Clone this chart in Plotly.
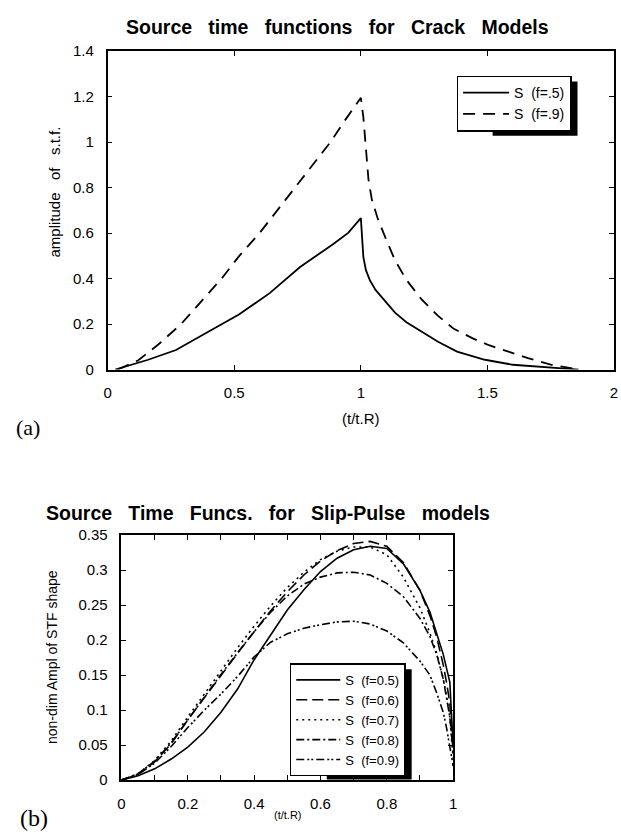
import plotly.graph_objects as go

W, H = 621, 839

# ---------------- data: (a) crack models ----------------
crack_x_f05 = [0.03, 0.16, 0.27, 0.41, 0.52, 0.64, 0.76, 0.89, 0.95, 1.0,
               1.01, 1.02, 1.035, 1.058, 1.09, 1.135, 1.18, 1.24, 1.305, 1.38,
               1.49, 1.6, 1.75, 1.86]
crack_y_f05 = [0.0, 0.043, 0.086, 0.172, 0.243, 0.336, 0.451, 0.551, 0.601, 0.666,
               0.494, 0.437, 0.394, 0.35, 0.308, 0.25, 0.208, 0.165, 0.122, 0.079,
               0.043, 0.021, 0.007, 0.0]
crack_x_f09 = [0.04, 0.12, 0.2, 0.29, 0.37, 0.45, 0.52, 0.6, 0.67, 0.74, 0.81, 0.88, 0.94, 1.0,
               1.01, 1.02, 1.03, 1.043, 1.066, 1.097, 1.135, 1.18, 1.24, 1.305, 1.367,
               1.444, 1.506, 1.583, 1.66, 1.753, 1.86]
crack_y_f09 = [0.0, 0.04, 0.11, 0.2, 0.3, 0.4, 0.5, 0.6, 0.7, 0.8, 0.9, 1.0, 1.1, 1.195,
               1.109, 0.98, 0.837, 0.75, 0.666, 0.58, 0.48, 0.394, 0.308, 0.236, 0.179,
               0.136, 0.107, 0.079, 0.05, 0.021, 0.0]

# ---------------- data: (b) slip-pulse models ----------------
pulse_x = [0, 0.05, 0.1, 0.15, 0.2, 0.25, 0.3, 0.35, 0.4, 0.45, 0.5, 0.55, 0.6,
           0.65, 0.7, 0.75, 0.8, 0.85, 0.9, 0.93, 0.95, 0.97, 0.98, 0.99, 1.0]
pulse_f05 = [0, .006, .016, .03, .047, .069, .097, .13, .172, .208, .243, .272, .298,
             .317, .329, .334, .331, .309, .271, .24, .21, .18, .16, .14, .05]
pulse_f06 = [0, .008, .026, .052, .086, .118, .15, .181, .212, .242, .269, .293, .313,
             .328, .338, .341, .334, .311, .271, .235, .205, .165, .14, .11, .04]
pulse_f07 = [0, .009, .028, .056, .09, .123, .156, .189, .22, .249, .275, .297, .315,
             .327, .333, .333, .322, .29, .246, .21, .182, .145, .12, .09, .03]
pulse_f08 = [0, .009, .027, .053, .086, .119, .151, .182, .212, .24, .263, .28, .29,
             .296, .297, .293, .281, .262, .231, .205, .18, .145, .12, .09, .04]
pulse_f09 = [0, .008, .024, .048, .075, .1, .123, .148, .176, .197, .209, .217, .222,
             .226, .227, .223, .213, .196, .17, .15, .125, .097, .075, .05, .02]

SP = "\u00a0\u00a0"
crack_names = ["S" + SP + "(f=.5)", "S" + SP + "(f=.9)"]
pulse_names = ["S" + SP + "(f=0.5)", "S" + SP + "(f=0.6)", "S" + SP + "(f=0.7)",
               "S" + SP + "(f=0.8)", "S" + SP + "(f=0.9)"]

a_xticks = [0, 0.5, 1, 1.5, 2]
a_xtext = ["0", "0.5", "1", "1.5", "2"]
a_yticks = [0, 0.2, 0.4, 0.6, 0.8, 1.0, 1.2, 1.4]
a_ytext = ["0", "0.2", "0.4", "0.6", "0.8", "1", "1.2", "1.4"]
b_xticks = [0, 0.1, 0.2, 0.3, 0.4, 0.5, 0.6, 0.7, 0.8, 0.9, 1.0]
b_xtext = ["0", "", "0.2", "", "0.4", "", "0.6", "", "0.8", "", "1"]
b_yticks = [0, 0.05, 0.1, 0.15, 0.2, 0.25, 0.3, 0.35]
b_ytext = ["0", "0.05", "0.1", "0.15", "0.2", "0.25", "0.3", "0.35"]

SANS = "Liberation Sans, Arial, Helvetica, sans-serif"
SERIF = "Liberation Serif, Times New Roman, serif"


def px_x(p):
    return p / W


def px_y(p):
    return 1 - p / H


fig = go.Figure()

# (a)
fig.add_trace(go.Scatter(x=crack_x_f05, y=crack_y_f05, mode="lines", name=crack_names[0],
                         line=dict(color="black", width=1.8), xaxis="x", yaxis="y", legend="legend"))
fig.add_trace(go.Scatter(x=crack_x_f09, y=crack_y_f09, mode="lines", name=crack_names[1],
                         line=dict(color="black", width=1.8, dash="12px,8px"), xaxis="x", yaxis="y",
                         legend="legend"))

# (b)
styles = ["solid", "11px,5px", "2px,4px", "8px,3px,2px,3px", "8px,3px,2px,2px,2px,3px"]
for name, ys, dsh in zip(pulse_names, [pulse_f05, pulse_f06, pulse_f07, pulse_f08, pulse_f09], styles):
    fig.add_trace(go.Scatter(x=pulse_x, y=ys, mode="lines", name=name,
                             line=dict(color="black", width=1.6, dash=dsh),
                             xaxis="x2", yaxis="y2", legend="legend2"))

axis_common = dict(showline=True, linecolor="black", linewidth=1.5, mirror="ticks",
                   ticks="inside", ticklen=5, tickwidth=1, tickcolor="black",
                   showgrid=False, zeroline=False, ticklabelstandoff=9,
                   tickfont=dict(family=SANS, size=15, color="black"))

# legend geometry (top-right corners, px) and shadow offset
LA_RIGHT, LA_TOP = 575, 68
LB_RIGHT, LB_TOP = 407, 668
SHADOW = 6
LA_FS, LB_FS = 14, 13
LA_H = 2 * (1.3 * LA_FS + 3) + 13
LB_H = 5 * (1.3 * LB_FS + 3) + 13

fig.update_layout(
    width=W, height=H,
    margin=dict(l=0, r=0, t=0, b=0),
    paper_bgcolor="white", plot_bgcolor="white",
    font=dict(family=SANS, color="black"),
    xaxis=dict(domain=[px_x(105), px_x(618)], range=[0, 2], tickvals=a_xticks,
               ticktext=a_xtext, anchor="y", **axis_common),
    yaxis=dict(domain=[px_y(368), px_y(43)], range=[0, 1.4], tickvals=a_yticks,
               ticktext=a_ytext, anchor="x", **axis_common),
    xaxis2=dict(domain=[px_x(119), px_x(455)], range=[0, 1], tickvals=b_xticks,
                ticktext=b_xtext, anchor="y2", **axis_common),
    yaxis2=dict(domain=[px_y(787), px_y(537)], range=[0, 0.35], tickvals=b_yticks,
                ticktext=b_ytext, anchor="x2", **axis_common),
    legend=dict(x=px_x(LA_RIGHT), y=px_y(LA_TOP), xanchor="right", yanchor="top",
                bgcolor="white", bordercolor="black", borderwidth=1.5,
                font=dict(family=SANS, size=LA_FS, color="black"),
                tracegroupgap=0, itemwidth=46),
    legend2=dict(x=px_x(LB_RIGHT), y=px_y(LB_TOP), xanchor="right", yanchor="top",
                 bgcolor="white", bordercolor="black", borderwidth=1.5,
                 font=dict(family=SANS, size=LB_FS, color="black"),
                 tracegroupgap=0, itemwidth=44),
    showlegend=True,
)

# legend drop shadows (sit behind the legend boxes)
fig.add_shape(type="rect", xref="paper", yref="paper",
              x0=px_x(LA_RIGHT - 80), x1=px_x(LA_RIGHT + SHADOW),
              y0=px_y(LA_TOP + LA_H + SHADOW), y1=px_y(LA_TOP + SHADOW),
              fillcolor="black", line=dict(width=0), layer="above")
fig.add_shape(type="rect", xref="paper", yref="paper",
              x0=px_x(LB_RIGHT - 80), x1=px_x(LB_RIGHT + SHADOW),
              y0=px_y(LB_TOP + LB_H + SHADOW), y1=px_y(LB_TOP + SHADOW),
              fillcolor="black", line=dict(width=0), layer="above")

SP3 = "\u00a0\u00a0\u00a0"
ann = [
    dict(text="<b>" + SP3.join(["Source", "time", "functions", "for", "Crack", "Models"]) + "</b>",
         x=px_x(338), y=px_y(18), font=dict(size=19.5)),
    dict(text="amplitude" + SP3 + "of" + SP3 + "s.t.f.", x=px_x(51), y=px_y(187),
         textangle=-90, font=dict(size=15)),
    dict(text="(t/t.R)", x=px_x(362), y=px_y(418), font=dict(size=15)),
    dict(text="(a)", x=px_x(24), y=px_y(427), font=dict(family=SERIF, size=22)),
    dict(text="<b>" + SP3.join(["Source", "Time", "Funcs.", "for", "Slip-Pulse", "models"]) + "</b>",
         x=px_x(41), y=px_y(514), xanchor="left", font=dict(size=19.5)),
    dict(text="non-dim Ampl of STF shape", x=px_x(48), y=px_y(661), textangle=-90,
         font=dict(size=14)),
    dict(text="(t/t.R)", x=px_x(288), y=px_y(823), font=dict(size=11)),
    dict(text="(b)", x=px_x(30), y=px_y(826), font=dict(family=SERIF, size=24)),
]
for a in ann:
    a.setdefault("xanchor", "center")
    a["yanchor"] = "middle"
    a["xref"] = "paper"
    a["yref"] = "paper"
    a["showarrow"] = False
    f = a.get("font", {})
    f.setdefault("family", SANS)
    f["color"] = "black"
    a["font"] = f
    fig.add_annotation(**a)

fig.write_html("out.html")
